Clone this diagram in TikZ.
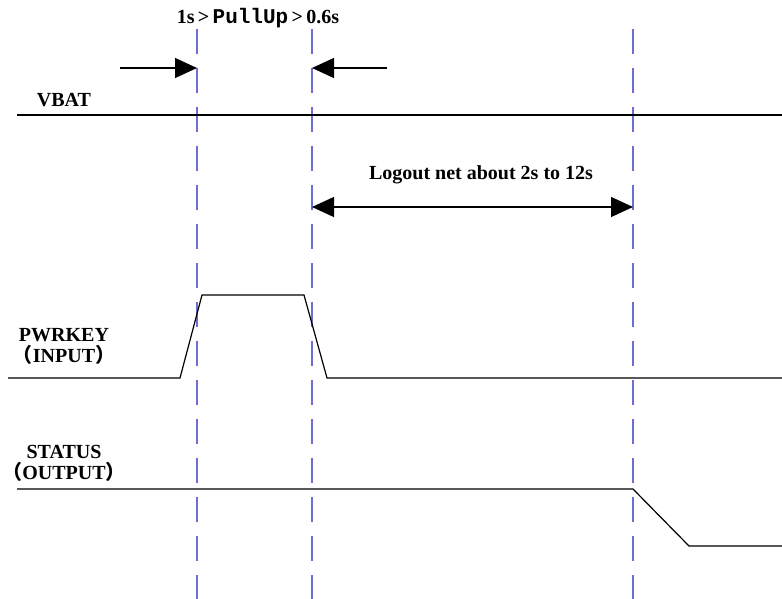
\documentclass[tikz,border=0pt]{standalone}
\usepackage{fontspec}
\setmainfont{Liberation Serif}
\setmonofont{Liberation Mono}
\newfontfamily\cjk{Noto Sans CJK SC}
\usetikzlibrary{arrows.meta}

\begin{document}
\begin{tikzpicture}[x=1pt,y=-1pt,
every node/.style={font=\bfseries\fontsize{20}{21}\selectfont,inner sep=0pt},
sig/.style={line width=1.2pt,line join=miter},
guide/.style={draw={rgb,255:red,110;green,110;blue,210},line width=1.3pt,dash pattern=on 25pt off 14pt},
arrowstyle/.style={line width=1.2pt,-{Triangle[length=22pt,width=20pt]}}]

\useasboundingbox (0,0) rectangle (782,599);

% guide lines
\coordinate (atop) at (197,29);
\coordinate (btop) at (312,29);
\coordinate (ctop) at (633,29);
\coordinate (abot) at (197,599);
\coordinate (bbot) at (312,599);
\coordinate (cbot) at (633,599);
\foreach \n in {a,b,c}
  \draw[guide] (\n top) -- (\n bot);

% labels
\node (pullup) at (258,18) {1s\,>\,{\ttfamily\fontsize{21}{21}\selectfont PullUp}\,>\,0.6s};
\node (vbat) at (64,100) {VBAT};
\node[align=center] (pwrkey) at (64,346) {PWRKEY\\{\cjk （}INPUT{\cjk ）}};
\node[align=center] (status) at (64,463) {STATUS\\{\cjk （}OUTPUT{\cjk ）}};
\node (logout) at (481,175) {Logout net about 2s to 12s};

% pull-up window arrows
\coordinate (ltail) at (120,68);
\coordinate (rtail) at (387,68);
\draw[arrowstyle] (ltail) -- (ltail -| atop);
\draw[arrowstyle] (rtail) -- (rtail -| btop);
\coordinate (lgo) at (472,207);
\draw[arrowstyle,{Triangle[length=22pt,width=20pt]}-{Triangle[length=22pt,width=20pt]}] (lgo -| btop) -- (lgo -| ctop);

% VBAT
\coordinate (v0) at (17,115);
\coordinate (v1) at (782,115);
\draw[sig] (v0) -- (v1);

% PWRKEY
\coordinate (k0) at (8,378);
\coordinate (k1) at (180,378);
\coordinate (k2) at (202,295);
\coordinate (k3) at (304,295);
\coordinate (k4) at (327,378);
\coordinate (k5) at (782,378);
\draw[sig] (k0) -- (k1) -- (k2) -- (k3) -- (k4) -- (k5);

% STATUS
\coordinate (s0) at (17,489);
\coordinate (s1) at (633,489);
\coordinate (s2) at (689,546);
\coordinate (s3) at (782,546);
\draw[sig] (s0) -- (s1) -- (s2) -- (s3);

\end{tikzpicture}
\end{document}
